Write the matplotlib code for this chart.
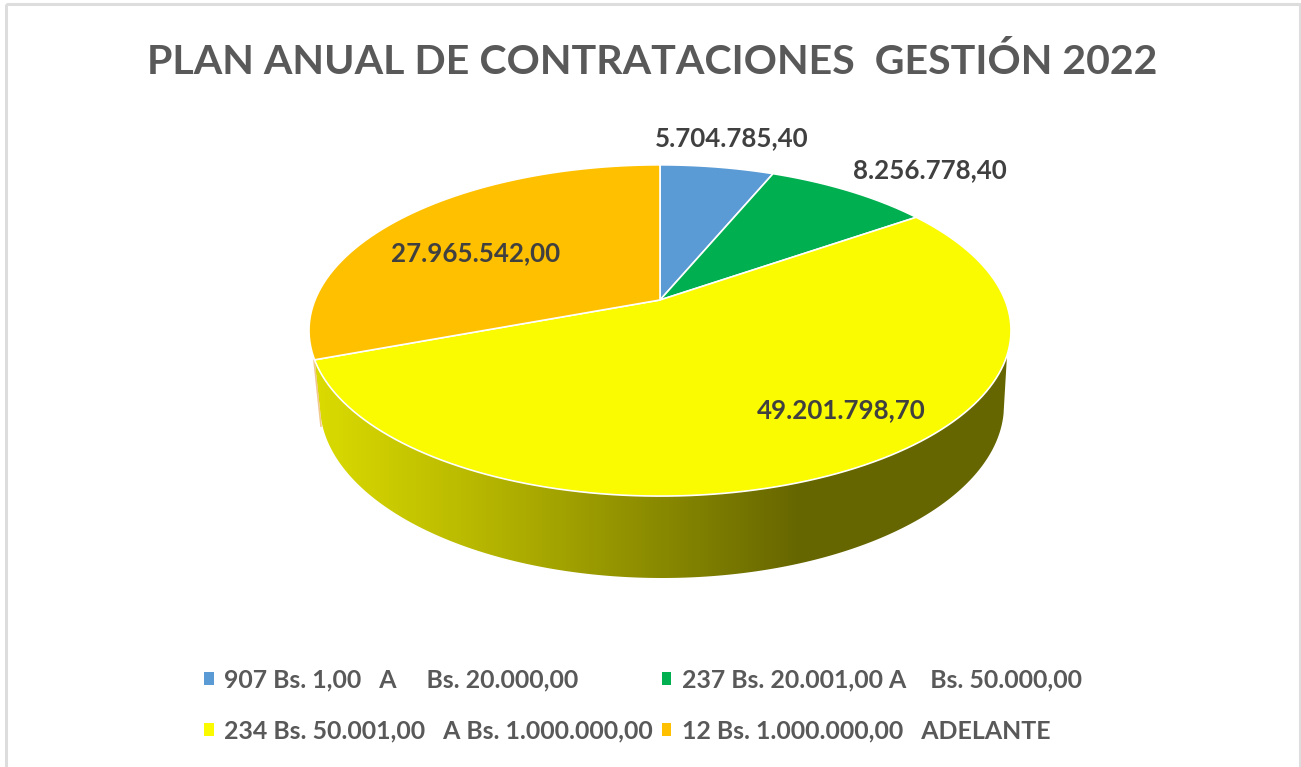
"""
plot.py

Perspective 3D-look pie chart of the annual procurement plan, drawn with ax.pie
and a small custom transform that tilts the pie.
"""

# Imports -------------------
import matplotlib
matplotlib.use("Agg")
import matplotlib.pyplot as plt
import numpy as np
from matplotlib.patches import Patch, Polygon, Rectangle
from matplotlib.path import Path
from matplotlib.transforms import Affine2D, Transform

# Data ----------------------
title = "PLAN ANUAL DE CONTRATACIONES  GESTIÓN 2022"
amounts = [5704785.40, 8256778.40, 49201798.70, 27965542.00]
amount_labels = ["5.704.785,40", "8.256.778,40", "49.201.798,70", "27.965.542,00"]
legend_labels = [
    "907 Bs. 1,00   A     Bs. 20.000,00",
    "234 Bs. 50.001,00   A Bs. 1.000.000,00",
    "237 Bs. 20.001,00 A    Bs. 50.000,00",
    "12 Bs. 1.000.000,00   ADELANTE",
]
slice_colors = ["#5B9BD5", "#00B050", "#FAFA00", "#FFC000"]

# Layout (figure pixels) ----
W, H = 1301, 767
label_xy = [(732, 138), (930, 170), (841, 410), (476, 253)]
APEX_X, APEX_Y = 660, 300
SCALE_X, SCALE_Y, PERSPECTIVE = 345, 160, 0.184


class TiltTransform(Transform):
    """Project the unit circle of the pie on to a tilted disc, in figure pixels."""
    input_dims = 2
    output_dims = 2
    is_separable = False
    has_inverse = False

    def transform_non_affine(self, values):
        values = np.asarray(values, dtype=float)
        w = 1 + PERSPECTIVE * values[:, 1]
        return np.column_stack(
            [APEX_X + SCALE_X * values[:, 0] / w, APEX_Y - SCALE_Y * values[:, 1] / w]
        )

    def transform_path_non_affine(self, path):
        # Flatten curves first, control points do not survive a perspective map
        big = Affine2D().scale(1000).transform_path(path)
        poly = big.to_polygons(closed_only=True)[0] / 1000
        return Path(self.transform_non_affine(poly), closed=True)


def arc(theta1, theta2, n=200):
    theta = np.radians(np.linspace(theta1, theta2, n))
    return np.column_stack([np.cos(theta), np.sin(theta)])


plt.rcParams["font.family"] = ["Lato", "DejaVu Sans"]
plt.rcParams["font.weight"] = "bold"

fig = plt.figure(figsize=(W / 100, H / 100), dpi=100)
ax = fig.add_axes([0, 0, 1, 1])

# Pie top -------------------
wedges, _ = ax.pie(
    amounts,
    colors=slice_colors,
    startangle=90,
    counterclock=False,
    wedgeprops={"edgecolor": "white", "linewidth": 1.2, "zorder": 3},
)
tilt = TiltTransform()
for wedge in wedges:
    wedge.set_transform(tilt + ax.transData)

# Side wall: gradient clipped to the band between top rim and bottom rim
rim_start = min(wedges[2].theta1, wedges[2].theta2) - 360
top_rim = tilt.transform(arc(rim_start if rim_start > -360 else rim_start + 360, -19))
t = np.radians(np.linspace(-3, -177, 200))
bottom_rim = np.column_stack([662 + 342 * np.cos(t), 405 - 173 * np.sin(t)])
wall = Polygon(
    np.vstack([top_rim, bottom_rim]), closed=True, transform=ax.transData,
    facecolor="none", edgecolor="none",
)
ax.add_patch(wall)

xs = np.arange(W)
shade = np.interp(xs, [320, 470, 783, 800], [218, 185, 106, 102]) / 255
grad = np.zeros((1, W, 3))
grad[0, :, 0] = shade
grad[0, :, 1] = shade
im = ax.imshow(grad, extent=(0, W, H, 0), aspect="auto", zorder=1, interpolation="nearest")
im.set_clip_path(wall)

# Thin sliver of the orange slice's wall on the left
ax.plot([314, 321], [360, 426], color="#F2C98C", lw=1.2, zorder=2)

# Value labels --------------
for text, (x, y) in zip(amount_labels, label_xy):
    ax.text(x, y, text, ha="center", va="center", fontsize=18.6, color="#404040", zorder=5)

ax.text(652.5, 61.5, title, ha="center", va="center", fontsize=29.6, color="#595959", zorder=5)

# Legend --------------------
order = [0, 2, 1, 3]
handles = [Patch(facecolor=slice_colors[i], edgecolor="none") for i in order]
leg = ax.legend(
    handles,
    legend_labels,
    ncol=2,
    loc="upper left",
    bbox_to_anchor=(197, 661),
    bbox_transform=ax.transData,
    frameon=False,
    fontsize=17.95,
    handlelength=0.37,
    handleheight=0.37,
    handletextpad=0.42,
    columnspacing=0.36,
    labelspacing=1.12,
    borderpad=0.3,
    borderaxespad=0,
    labelcolor="#595959",
)

# Chart border --------------
ax.add_patch(Rectangle((6, 4), 1294, 800, facecolor="none", edgecolor="#DDDDDD", lw=2.2, zorder=6))

ax.set_aspect("auto")
ax.set_xlim(0, W)
ax.set_ylim(H, 0)
ax.axis("off")

fig.savefig("out.png", dpi=100)
